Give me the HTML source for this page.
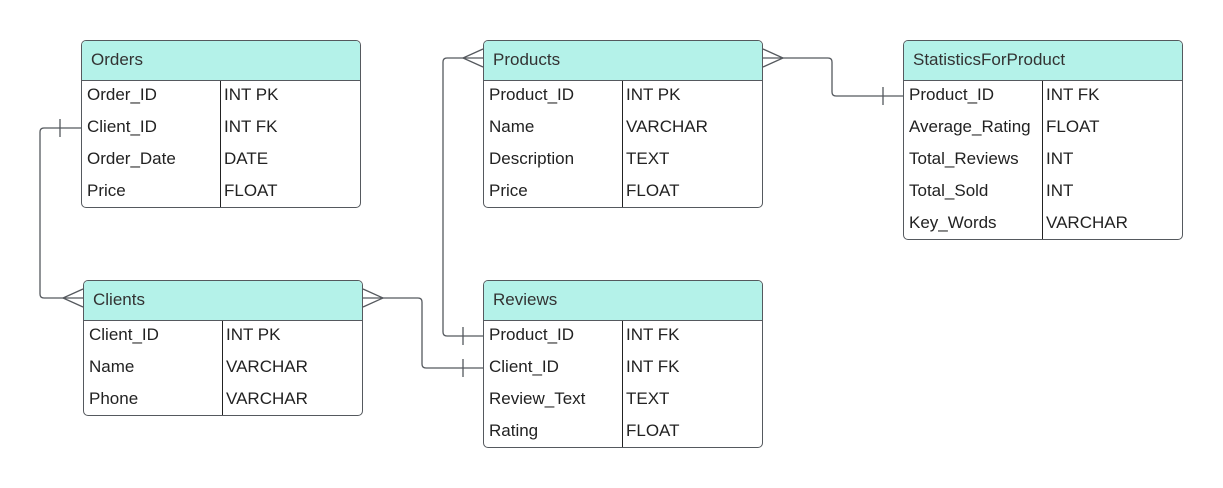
<!DOCTYPE html>
<html><head><style>
body{margin:0;background:#fff;width:1223px;height:488px;position:relative;overflow:hidden;font-family:"Liberation Sans",sans-serif;color:#222}
.t{position:absolute;border:1.3px solid #55595e;border-radius:5px;background:#fff;box-sizing:border-box;overflow:hidden}
.h{height:40px;background:#b4f2e9;border-bottom:1.3px solid #55595e;box-sizing:border-box;font-size:17px;line-height:38px;padding-left:9px;color:#333}
.r{height:32px;font-size:17px;line-height:27px;position:relative}
.r span{position:absolute;left:5px}
.r b{font-weight:normal;position:absolute}
.d{position:absolute;top:40px;bottom:0;border-left:1.3px solid #222}
svg{position:absolute;left:0;top:0}
</style></head><body>
<svg width="1223" height="488" fill="none" stroke="#55595e" stroke-width="1.3">
<path d="M81 128 H44 Q40 128 40 132 V294 Q40 298 44 298 H83"/>
<path d="M60 119 V137"/>
<path d="M83 289 L63 298 L83 307"/>
<path d="M363 298 H418 Q422 298 422 302 V364 Q422 368 426 368 H483"/>
<path d="M363 289 L383 298 L363 307"/>
<path d="M463 359 V377"/>
<path d="M483 58 H447 Q443 58 443 62 V332 Q443 336 447 336 H483"/>
<path d="M483 49 L463 58 L483 67"/>
<path d="M463 327 V345"/>
<path d="M763 58 H828 Q832 58 832 62 V92 Q832 96 836 96 H903"/>
<path d="M763 49 L783 58 L763 67"/>
<path d="M883 87 V105"/>
</svg>

<div class="t" style="left:81px;top:40px;width:280px;height:168px">
<div class="h">Orders</div><div class="d" style="left:138px"></div>
<div class="r"><span>Order_ID</span><b style="left:142px">INT PK</b></div>
<div class="r"><span>Client_ID</span><b style="left:142px">INT FK</b></div>
<div class="r"><span>Order_Date</span><b style="left:142px">DATE</b></div>
<div class="r"><span>Price</span><b style="left:142px">FLOAT</b></div>
</div>

<div class="t" style="left:83px;top:280px;width:280px;height:136px">
<div class="h">Clients</div><div class="d" style="left:138px"></div>
<div class="r"><span>Client_ID</span><b style="left:142px">INT PK</b></div>
<div class="r"><span>Name</span><b style="left:142px">VARCHAR</b></div>
<div class="r"><span>Phone</span><b style="left:142px">VARCHAR</b></div>
</div>

<div class="t" style="left:483px;top:40px;width:280px;height:168px">
<div class="h">Products</div><div class="d" style="left:138px"></div>
<div class="r"><span>Product_ID</span><b style="left:142px">INT PK</b></div>
<div class="r"><span>Name</span><b style="left:142px">VARCHAR</b></div>
<div class="r"><span>Description</span><b style="left:142px">TEXT</b></div>
<div class="r"><span>Price</span><b style="left:142px">FLOAT</b></div>
</div>

<div class="t" style="left:483px;top:280px;width:280px;height:168px">
<div class="h">Reviews</div><div class="d" style="left:138px"></div>
<div class="r"><span>Product_ID</span><b style="left:142px">INT FK</b></div>
<div class="r"><span>Client_ID</span><b style="left:142px">INT FK</b></div>
<div class="r"><span>Review_Text</span><b style="left:142px">TEXT</b></div>
<div class="r"><span>Rating</span><b style="left:142px">FLOAT</b></div>
</div>

<div class="t" style="left:903px;top:40px;width:280px;height:200px">
<div class="h">StatisticsForProduct</div><div class="d" style="left:138px"></div>
<div class="r"><span>Product_ID</span><b style="left:142px">INT FK</b></div>
<div class="r"><span>Average_Rating</span><b style="left:142px">FLOAT</b></div>
<div class="r"><span>Total_Reviews</span><b style="left:142px">INT</b></div>
<div class="r"><span>Total_Sold</span><b style="left:142px">INT</b></div>
<div class="r"><span>Key_Words</span><b style="left:142px">VARCHAR</b></div>
</div>
</body></html>
